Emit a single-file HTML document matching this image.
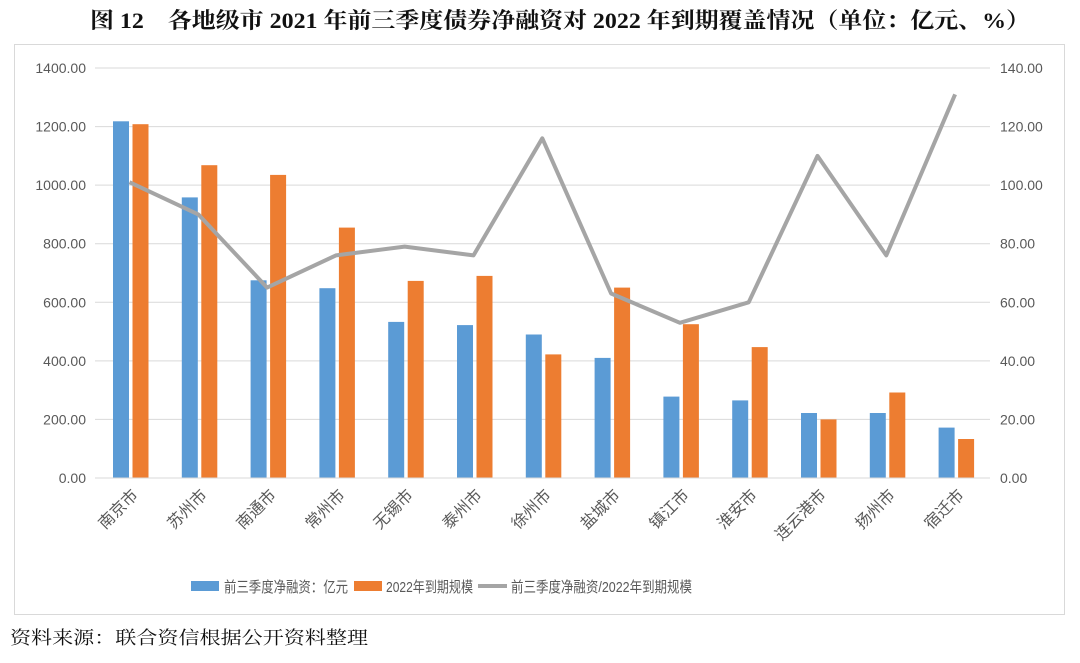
<!DOCTYPE html>
<html><head><meta charset="utf-8"><style>
body{margin:0;background:#fff;width:1080px;height:658px;overflow:hidden}
svg text{font-family:"Liberation Serif","Noto Serif CJK SC",serif}
.s{font-family:"Liberation Sans","Noto Sans CJK SC",sans-serif !important}
</style></head><body>
<svg width="1080" height="658" xmlns="http://www.w3.org/2000/svg">
<text x="90" y="28" font-size="22" font-weight="bold" fill="#111" textLength="940" lengthAdjust="spacingAndGlyphs">图 12　各地级市 2021 年前三季度债券净融资对 2022 年到期覆盖情况（单位：亿元、%）</text>
<rect x="14.5" y="44.5" width="1050" height="570" fill="#fff" stroke="#d9d9d9"/>
<g stroke="#d9d9d9" stroke-width="1">
<line x1="95" x2="990" y1="68" y2="68"/><line x1="95" x2="990" y1="126.6" y2="126.6"/>
<line x1="95" x2="990" y1="185.1" y2="185.1"/><line x1="95" x2="990" y1="243.7" y2="243.7"/>
<line x1="95" x2="990" y1="302.3" y2="302.3"/><line x1="95" x2="990" y1="360.9" y2="360.9"/>
<line x1="95" x2="990" y1="419.4" y2="419.4"/>
</g>
<g class="s" font-size="14" fill="#595959" text-anchor="end">
<text class="s" x="86" y="73">1400.00</text><text class="s" x="86" y="131.6">1200.00</text>
<text class="s" x="86" y="190.1">1000.00</text><text class="s" x="86" y="248.7">800.00</text>
<text class="s" x="86" y="307.3">600.00</text><text class="s" x="86" y="365.9">400.00</text>
<text class="s" x="86" y="424.4">200.00</text><text class="s" x="86" y="483">0.00</text>
</g>
<g font-size="14" fill="#595959" text-anchor="start">
<text class="s" x="1000" y="73">140.00</text><text class="s" x="1000" y="131.6">120.00</text>
<text class="s" x="1000" y="190.1">100.00</text><text class="s" x="1000" y="248.7">80.00</text>
<text class="s" x="1000" y="307.3">60.00</text><text class="s" x="1000" y="365.9">40.00</text>
<text class="s" x="1000" y="424.4">20.00</text><text class="s" x="1000" y="483">0.00</text>
</g>
<g fill="#5b9bd5">
<rect x="113" y="121.3" width="16" height="356.7"/>
<rect x="181.8" y="197.4" width="16" height="280.6"/>
<rect x="250.6" y="280.3" width="16" height="197.7"/>
<rect x="319.4" y="288.2" width="16" height="189.8"/>
<rect x="388.2" y="321.9" width="16" height="156.1"/>
<rect x="457" y="325.1" width="16" height="152.9"/>
<rect x="525.8" y="334.5" width="16" height="143.5"/>
<rect x="594.6" y="357.9" width="16" height="120.1"/>
<rect x="663.4" y="396.6" width="16" height="81.4"/>
<rect x="732.2" y="400.4" width="16" height="77.6"/>
<rect x="801" y="413" width="16" height="65"/>
<rect x="869.8" y="413" width="16" height="65"/>
<rect x="938.6" y="427.6" width="16" height="50.4"/>
</g>
<g fill="#ed7d31">
<rect x="132.5" y="124.2" width="16" height="353.8"/>
<rect x="201.3" y="165.2" width="16" height="312.8"/>
<rect x="270.1" y="174.9" width="16" height="303.1"/>
<rect x="338.9" y="227.6" width="16" height="250.4"/>
<rect x="407.7" y="280.9" width="16" height="197.1"/>
<rect x="476.5" y="275.9" width="16" height="202.1"/>
<rect x="545.3" y="354.4" width="16" height="123.6"/>
<rect x="614.1" y="287.6" width="16" height="190.4"/>
<rect x="682.9" y="324.2" width="16" height="153.8"/>
<rect x="751.7" y="347.1" width="16" height="130.9"/>
<rect x="820.5" y="419.4" width="16" height="58.6"/>
<rect x="889.3" y="392.5" width="16" height="85.5"/>
<rect x="958.1" y="439" width="16" height="39"/>
</g>
<line x1="95" x2="990" y1="478" y2="478" stroke="#d9d9d9"/>
<polyline fill="none" stroke="#a5a5a5" stroke-width="4" stroke-linejoin="round" points="129.5,182.2 198.3,214.4 267.1,287.6 335.9,255.4 404.7,246.6 473.5,255.4 542.3,138.3 611.1,293.5 679.9,322.8 748.7,302.3 817.5,155.9 886.3,255.4 955.1,94.4"/>
<g font-size="16" fill="#595959" text-anchor="end">
<text class="s" transform="translate(139,496) rotate(-45)">南京市</text>
<text class="s" transform="translate(208,496) rotate(-45)">苏州市</text>
<text class="s" transform="translate(277,496) rotate(-45)">南通市</text>
<text class="s" transform="translate(346,496) rotate(-45)">常州市</text>
<text class="s" transform="translate(414,496) rotate(-45)">无锡市</text>
<text class="s" transform="translate(483,496) rotate(-45)">泰州市</text>
<text class="s" transform="translate(552,496) rotate(-45)">徐州市</text>
<text class="s" transform="translate(621,496) rotate(-45)">盐城市</text>
<text class="s" transform="translate(690,496) rotate(-45)">镇江市</text>
<text class="s" transform="translate(758,496) rotate(-45)">淮安市</text>
<text class="s" transform="translate(827,496) rotate(-45)">连云港市</text>
<text class="s" transform="translate(896,496) rotate(-45)">扬州市</text>
<text class="s" transform="translate(965,496) rotate(-45)">宿迁市</text>
</g>
<rect x="191" y="581" width="28" height="10" fill="#5b9bd5"/>
<text class="s" x="224" y="592" font-size="15" fill="#595959" textLength="124" lengthAdjust="spacingAndGlyphs">前三季度净融资：亿元</text>
<rect x="354" y="581" width="28" height="10" fill="#ed7d31"/>
<text class="s" x="386" y="592" font-size="15" fill="#595959" textLength="87" lengthAdjust="spacingAndGlyphs">2022年到期规模</text>
<line x1="478" x2="507" y1="586" y2="586" stroke="#a5a5a5" stroke-width="4"/>
<text class="s" x="511" y="592" font-size="15" fill="#595959" textLength="181" lengthAdjust="spacingAndGlyphs">前三季度净融资/2022年到期规模</text>
<text x="10" y="644" font-size="18" fill="#111" textLength="358" lengthAdjust="spacingAndGlyphs">资料来源：联合资信根据公开资料整理</text>
</svg>
</body></html>
